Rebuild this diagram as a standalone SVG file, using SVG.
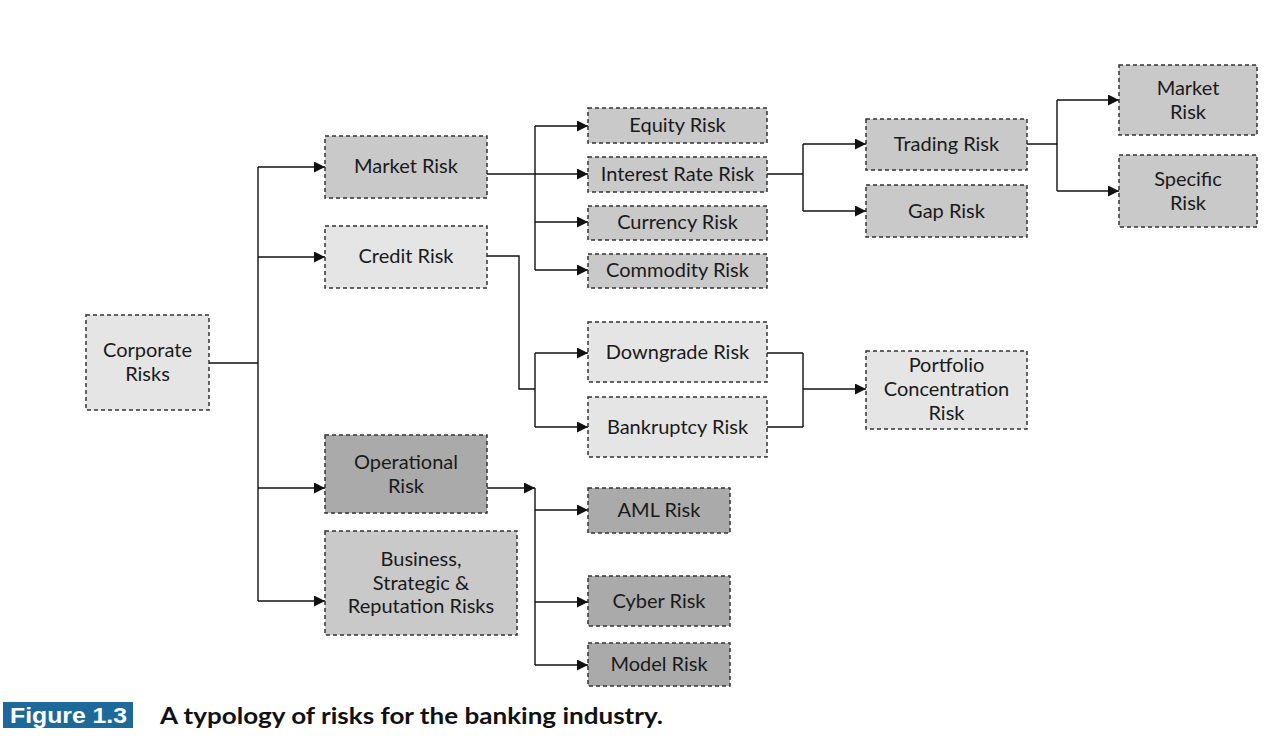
<svg xmlns="http://www.w3.org/2000/svg" width="1267" height="749" viewBox="0 0 1267 749">
<defs>
<marker id="arr" markerWidth="11" markerHeight="11" refX="11" refY="5.5" orient="auto" markerUnits="userSpaceOnUse">
<path d="M0,0 L11,5.5 L0,11 z" fill="#111"/>
</marker>
<style>
.box{stroke:#333;stroke-width:1.5;stroke-dasharray:4 3}
.l{fill:#e5e5e5}.m{fill:#c9c9c9}.d{fill:#aaaaaa}
.t{font-family:Lato,"Noto Sans",sans-serif;font-size:20px;fill:#1a1a1a;text-anchor:middle}
.c{fill:none;stroke:#111;stroke-width:1.4}
</style>
</defs>
<rect width="1267" height="749" fill="#fff"/>
<g id="connectors">
<path class="c" d="M209,363 H258 M258,167 V601"/>
<path class="c" d="M258,167 H325" marker-end="url(#arr)"/>
<path class="c" d="M258,257 H325" marker-end="url(#arr)"/>
<path class="c" d="M258,488 H325" marker-end="url(#arr)"/>
<path class="c" d="M258,601 H325" marker-end="url(#arr)"/>
<path class="c" d="M535,126 V270"/>
<path class="c" d="M487,174 H588" marker-end="url(#arr)"/>
<path class="c" d="M535,126 H588" marker-end="url(#arr)"/>
<path class="c" d="M535,222 H588" marker-end="url(#arr)"/>
<path class="c" d="M535,270 H588" marker-end="url(#arr)"/>
<path class="c" d="M767,174 H803 M803,144 V211"/>
<path class="c" d="M803,144 H866" marker-end="url(#arr)"/>
<path class="c" d="M803,211 H866" marker-end="url(#arr)"/>
<path class="c" d="M1027,144 H1057 M1057,100 V191"/>
<path class="c" d="M1057,100 H1119" marker-end="url(#arr)"/>
<path class="c" d="M1057,191 H1119" marker-end="url(#arr)"/>
<path class="c" d="M487,256 H519 V389 H535 M535,353 V427"/>
<path class="c" d="M535,353 H588" marker-end="url(#arr)"/>
<path class="c" d="M535,427 H588" marker-end="url(#arr)"/>
<path class="c" d="M767,353 H803 M767,427 H803 M803,353 V427"/>
<path class="c" d="M803,389 H866" marker-end="url(#arr)"/>
<path class="c" d="M487,488 H535" marker-end="url(#arr)"/>
<path class="c" d="M535,488 V665"/>
<path class="c" d="M535,510 H588" marker-end="url(#arr)"/>
<path class="c" d="M535,602 H588" marker-end="url(#arr)"/>
<path class="c" d="M535,665 H588" marker-end="url(#arr)"/>
</g>
<g id="corporate"><rect class="box l" x="86" y="315" width="123" height="95"/><text class="t" x="147.5" y="357">Corporate</text><text class="t" x="147.5" y="381">Risks</text></g>
<g id="market"><rect class="box m" x="325" y="136" width="162" height="62"/><text class="t" x="406" y="173">Market Risk</text></g>
<g id="credit"><rect class="box l" x="325" y="226" width="162" height="62"/><text class="t" x="406" y="263">Credit Risk</text></g>
<g id="operational"><rect class="box d" x="325" y="435" width="162" height="78"/><text class="t" x="406" y="469">Operational</text><text class="t" x="406" y="493">Risk</text></g>
<g id="business"><rect class="box m" x="325" y="531" width="192" height="104"/><text class="t" x="421" y="566">Business,</text><text class="t" x="421" y="590">Strategic &amp;</text><text class="t" x="421" y="613">Reputation Risks</text></g>
<g id="equity"><rect class="box m" x="588" y="108" width="179" height="35"/><text class="t" x="677.5" y="132">Equity Risk</text></g>
<g id="interest"><rect class="box m" x="588" y="157" width="179" height="35"/><text class="t" x="677.5" y="181">Interest Rate Risk</text></g>
<g id="currency"><rect class="box m" x="588" y="206" width="179" height="34"/><text class="t" x="677.5" y="229">Currency Risk</text></g>
<g id="commodity"><rect class="box m" x="588" y="254" width="179" height="34"/><text class="t" x="677.5" y="277">Commodity Risk</text></g>
<g id="trading"><rect class="box m" x="866" y="119" width="161" height="51"/><text class="t" x="946.5" y="151">Trading Risk</text></g>
<g id="gap"><rect class="box m" x="866" y="185" width="161" height="52"/><text class="t" x="946.5" y="218">Gap Risk</text></g>
<g id="market2"><rect class="box m" x="1119" y="65" width="138" height="70"/><text class="t" x="1188" y="95">Market</text><text class="t" x="1188" y="119">Risk</text></g>
<g id="specific"><rect class="box m" x="1119" y="155" width="138" height="72"/><text class="t" x="1188" y="186">Specific</text><text class="t" x="1188" y="210">Risk</text></g>
<g id="downgrade"><rect class="box l" x="588" y="322" width="179" height="60"/><text class="t" x="677.5" y="359">Downgrade Risk</text></g>
<g id="bankruptcy"><rect class="box l" x="588" y="397" width="179" height="60"/><text class="t" x="677.5" y="434">Bankruptcy Risk</text></g>
<g id="portfolio"><rect class="box l" x="866" y="351" width="161" height="78"/><text class="t" x="946.5" y="372">Portfolio</text><text class="t" x="946.5" y="396">Concentration</text><text class="t" x="946.5" y="420">Risk</text></g>
<g id="aml"><rect class="box d" x="588" y="488" width="142" height="45"/><text class="t" x="659" y="517">AML Risk</text></g>
<g id="cyber"><rect class="box d" x="588" y="576" width="142" height="50"/><text class="t" x="659" y="608">Cyber Risk</text></g>
<g id="model"><rect class="box d" x="588" y="643" width="142" height="43"/><text class="t" x="659" y="671">Model Risk</text></g>
<g id="caption">
<rect x="3" y="702" width="130" height="26" fill="#1d6a9a"/>
<text x="10" y="723" font-family="'Liberation Sans',Arial,sans-serif" font-weight="bold" font-size="22" fill="#fff" textLength="117" lengthAdjust="spacingAndGlyphs">Figure 1.3</text>
<text x="160" y="724" font-family="Lato,'Noto Sans',sans-serif" font-weight="bold" font-size="23" fill="#111" textLength="503" lengthAdjust="spacingAndGlyphs">A typology of risks for the banking industry.</text>
</g>
</svg>
